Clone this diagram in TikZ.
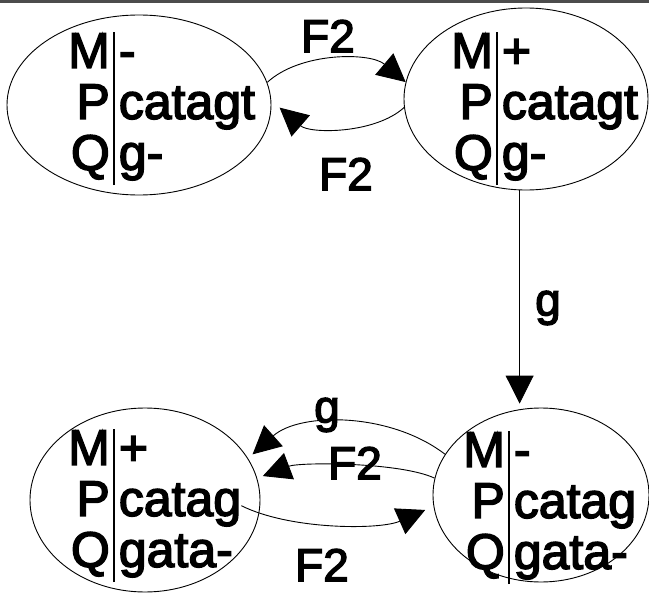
\documentclass[tikz,border=0pt]{standalone}
\usepackage{fontspec}
\setmainfont{Liberation Sans}[FakeBold=3]
\usetikzlibrary{arrows.meta,shapes.geometric}
\setlength{\arrayrulewidth}{1.8pt}
\setlength{\tabcolsep}{4.5pt}
\newcommand{\regtab}[3]{\begin{tabular}{@{}r|l@{}}M&#1\\P&#2\\Q&#3\end{tabular}}

\begin{document}
\begin{tikzpicture}[x=1pt,y=-1pt,state/.style={draw,ellipse,line width=0.9pt,inner sep=0pt},regs/.style={anchor=north west,inner sep=0pt,font=\fontsize{50}{51}\selectfont},lbl/.style={inner sep=0pt,font=\fontsize{46}{46}\selectfont},arrow/.style={-{Triangle[length=28pt,width=28pt]},line width=0.9pt}]
\useasboundingbox (0,0) rectangle (649,594);
\fill[black!70] (0,0) rectangle (649,3);
\node[state,minimum width=264pt,minimum height=180pt] (s1) at (139,105) {};
\node[state,minimum width=244pt,minimum height=182pt] (s2) at (526,99) {};
\node[state,minimum width=216pt,minimum height=174pt] (s3) at (541,495) {};
\node[state,minimum width=230pt,minimum height=184pt] (s4) at (145,500) {};
\node[regs] (s1t) at (68,32) {\regtab{-}{catagt}{g-}};
\node[regs] (s2t) at (451,32) {\regtab{+}{catagt}{g-}};
\node[regs] (s3t) at (463,431) {\regtab{-}{catag}{gata-}};
\node[regs] (s4t) at (68,429) {\regtab{+}{catag}{gata-}};
\node[lbl] (f2a) at (328,36) {F2};
\node[lbl] (f2b) at (346,174) {F2};
\node[lbl] (g1) at (548,308) {g};
\node[lbl] (g2) at (327,415) {g};
\node[lbl] (f2c) at (355,463) {F2};
\node[lbl] (f2d) at (322,565) {F2};
\draw[arrow] (s1.10) .. controls (300,52) and (370,52) .. (s2.172);
\draw[arrow,shorten >=11pt] (s2.184) .. controls (375,134) and (310,134) .. (s1.2);
\draw[arrow,shorten >=4pt] (s2.-94) -- (s2.-94 |- s3.north);
\draw[arrow,shorten >=6pt] (s3.157) .. controls (390,412) and (300,412) .. (s4.22);
\draw[arrow,shorten >=6pt] (s3.171) .. controls (400,462) and (300,462) .. (s4.11);
\draw[arrow,shorten >=9pt] (s4t.east) .. controls (290,530) and (380,530) .. (s3.186);
\end{tikzpicture}
\end{document}
